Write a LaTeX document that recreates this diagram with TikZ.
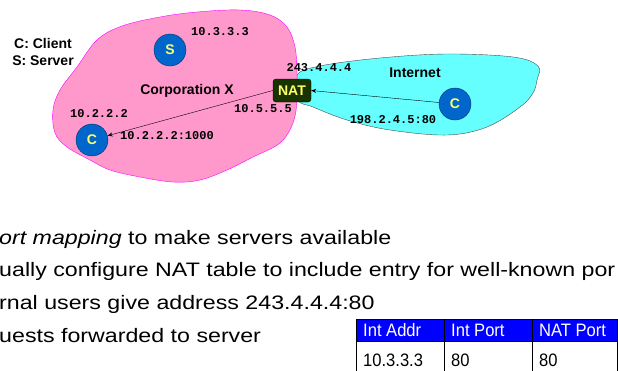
\documentclass[tikz,border=0pt]{standalone}
\usepackage{fontspec}
\setmainfont{Liberation Sans}
\newfontfamily\addrfont{Liberation Mono}
\newfontfamily\bodyfont[FakeStretch=1.19]{Liberation Sans}
\newfontfamily\cellfont[FakeStretch=0.92]{Liberation Sans}
\usetikzlibrary{arrows.meta}

\definecolor{corppink}{RGB}{255,153,204}
\definecolor{corpline}{RGB}{255,0,255}
\definecolor{netcyan}{RGB}{102,255,255}
\definecolor{natgreen}{RGB}{25,51,0}
\definecolor{natyellow}{RGB}{255,255,102}
\definecolor{hostblue}{RGB}{0,102,204}
\definecolor{hostline}{RGB}{0,51,102}
\definecolor{headblue}{RGB}{0,0,255}

\tikzset{
  host/.style={circle, draw=hostline, fill=hostblue, minimum size=32pt, inner sep=0pt,
    text=natyellow, font=\bfseries\fontsize{14}{14}\selectfont},
  addr/.style={inner sep=0pt, font=\addrfont\bfseries\fontsize{12}{12}\selectfont},
  lbl/.style={inner sep=0pt, font=\bfseries\fontsize{14}{17}\selectfont},
  bodyline/.style={anchor=base west, inner sep=0pt, font=\bodyfont\fontsize{19.5}{20}\selectfont},
  cell/.style={anchor=base west, inner sep=0pt, font=\cellfont\fontsize{18}{18}\selectfont},
  flow/.style={-{Stealth[length=5pt,width=4pt]}, thin},
}

\begin{document}
\begin{tikzpicture}[x=1pt,y=-1pt]
        \useasboundingbox (0,0) rectangle (618,370);
        \clip (0,0) rectangle (618,370);

        \filldraw[fill=netcyan, draw=black!70, thin] plot[smooth cycle, tension=0.6] coordinates {
          (296,76) (320,66) (380,58) (447,54) (513,57) (538,66) (537,80) (533,93)
          (520,107) (487,127) (447,135) (390,130) (347,120) (313,107) (298,100)};
        \filldraw[fill=corppink, draw=corpline, thin] plot[smooth cycle, tension=0.6] coordinates {
          (122,26) (97,40) (77,67) (60,90) (53,110) (55,133) (67,147) (90,160)
          (110,170) (140,177) (173,182) (200,180) (227,170) (253,157) (280,143)
          (293,123) (297,100) (297,73) (295,47) (287,27) (270,15) (240,10)
          (197,12) (160,17)};

        \node[lbl, align=center] (legend) at (43,52) {C: Client\\S: Server};
        \node[lbl] (corp) at (187,91) {Corporation X};
        \node[lbl] (inet) at (415,73) {Internet};

        \node[host] (server) at (170,50) {S};
        \node[host] (client) at (92,140) {C};
        \node[host] (remote) at (455,104) {C};
        \node[draw=black, fill=natgreen, rounded corners=3pt, minimum width=38pt,
          minimum height=23pt, inner sep=0pt, text=natyellow,
          font=\bfseries\fontsize{14}{14}\selectfont] (nat) at (292,90.5) {NAT};

        \node[addr] (srvaddr) at (220,32) {10.3.3.3};
        \node[addr] (natout) at (319,68) {243.4.4.4};
        \node[addr] (natin) at (263,109) {10.5.5.5};
        \node[addr] (cliaddr) at (99,114) {10.2.2.2};
        \node[addr] (cliport) at (167,136) {10.2.2.2:1000};
        \node[addr] (remport) at (393,120) {198.2.4.5:80};

        \draw[flow] (nat.west) -- (client);
        \draw[flow] (remote) -- (nat.east);

        \node[bodyline] (line1) at (-1,244) {\textit{ort mapping} to make servers available};
        \node[bodyline] (line2) at (-1,276) {ually configure NAT table to include entry for well-known por};
        \node[bodyline] (line3) at (-1,309) {rnal users give address 243.4.4.4:80};
        \node[bodyline] (line4) at (-1,342) {uests forwarded to server};

        \filldraw[fill=headblue, draw=black] (356,319) rectangle (617,341);
        \draw (356,341) rectangle (617,380);
        \draw (444,319) -- (444,380);
        \draw (532,319) -- (532,380);
        \node[cell, text=white] (h1) at (363,336) {Int Addr};
        \node[cell, text=white] (h2) at (451,336) {Int Port};
        \node[cell, text=white] (h3) at (539,336) {NAT Port};
        \node[cell] (r1) at (363,366) {10.3.3.3};
        \node[cell] (r2) at (451,366) {80};
        \node[cell] (r3) at (539,366) {80};
\end{tikzpicture}
\end{document}
